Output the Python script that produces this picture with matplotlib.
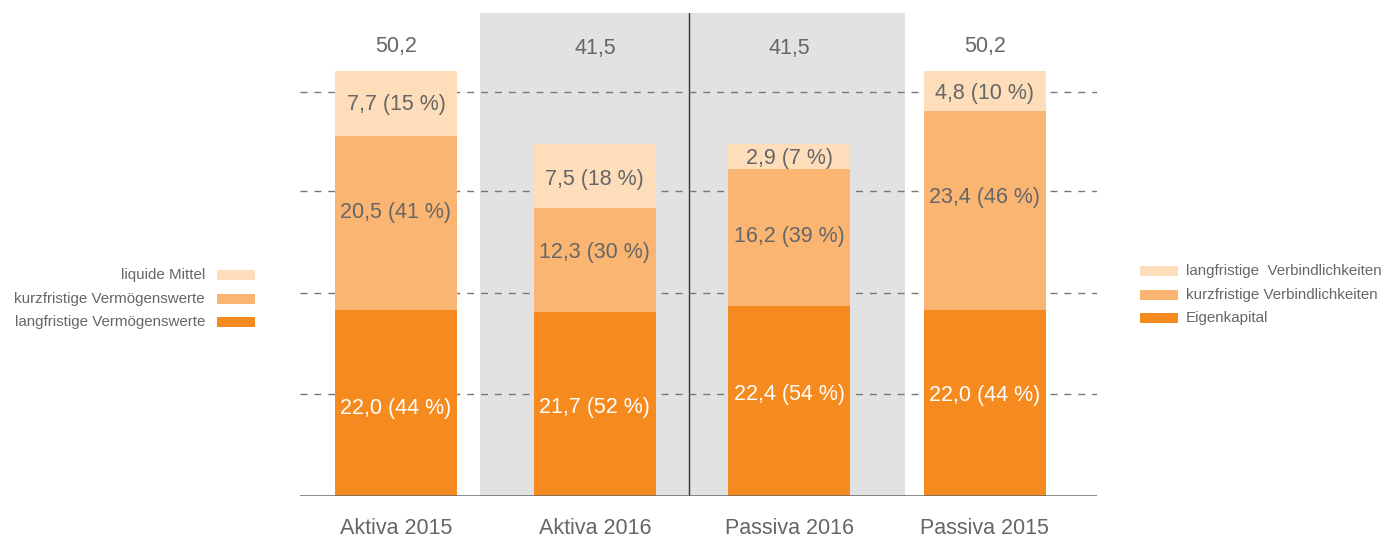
import matplotlib
matplotlib.use("Agg")
import matplotlib.pyplot as plt
from matplotlib.patches import Rectangle

plt.rcParams['font.family'] = ['Liberation Sans', 'DejaVu Sans']

categories = ["Aktiva 2015", "Aktiva 2016", "Passiva 2016", "Passiva 2015"]
dark_vals = [22.0, 21.7, 22.4, 22.0]
mid_vals = [20.5, 12.3, 16.2, 23.4]
light_vals = [7.7, 7.5, 2.9, 4.8]
totals = ["50,2", "41,5", "41,5", "50,2"]
dark_labels = ["22,0 (44 %)", "21,7 (52 %)", "22,4 (54 %)", "22,0 (44 %)"]
mid_labels = ["20,5 (41 %)", "12,3 (30 %)", "16,2 (39 %)", "23,4 (46 %)"]
light_labels = ["7,7 (15 %)", "7,5 (18 %)", "2,9 (7 %)", "4,8 (10 %)"]
left_legend = ["liquide Mittel", "kurzfristige Vermögenswerte", "langfristige Vermögenswerte"]
right_legend = ["langfristige  Verbindlichkeiten", "kurzfristige Verbindlichkeiten", "Eigenkapital"]
grid_vals = [12, 24, 36, 47.7]

# layout
x_pos = [0.0, 1.013, 2.003, 3.0]
dark_label_y = [10.3, 10.4, 12.0, 11.9]
mid_label_y = [33.5, 28.7, 30.6, 35.2]
light_label_y = [46.2, 37.4, 39.8, 47.5]
total_label_y = [53.1, 52.8, 52.8, 53.1]

C_DARK = "#F58B1F"
C_MID = "#FAB573"
C_LIGHT = "#FDDDBA"
TXT = "#666666"

W, H = 1385, 540
fig = plt.figure(figsize=(W / 100, H / 100), dpi=100)
ax = fig.add_axes([300 / W, (H - 496) / H, 797 / W, 483 / H])
ax.set_xlim(-0.489, 3.571)
ax.set_ylim(0, 57.0)
ax.axis('off')

bw = 0.62

# grey background and divider
ax.axvspan(0.428, 2.593, color="#E2E2E2", zorder=0, lw=0)
ax.axvline(1.492, color="#333333", lw=1.0, zorder=1)

# gridlines
for g in grid_vals:
    ax.axhline(g, color="#777777", lw=1.0, ls=(0, (5, 5)), zorder=1)

ax.bar(x_pos, dark_vals, width=bw, color=C_DARK, zorder=2, lw=0)
bottom2 = [d for d in dark_vals]
ax.bar(x_pos, mid_vals, width=bw, bottom=bottom2, color=C_MID, zorder=2, lw=0)
bottom3 = [d + m for d, m in zip(dark_vals, mid_vals)]
ax.bar(x_pos, light_vals, width=bw, bottom=bottom3, color=C_LIGHT, zorder=2, lw=0)

ax.axhline(0, color="#666666", lw=1.8, zorder=3)

fs = 15.5
for i, xp in enumerate(x_pos):
    ax.text(xp, dark_label_y[i], dark_labels[i], ha='center', va='center', color='white', fontsize=fs, zorder=4)
    ax.text(xp, mid_label_y[i], mid_labels[i], ha='center', va='center', color=TXT, fontsize=fs, zorder=4)
    ax.text(xp, light_label_y[i], light_labels[i], ha='center', va='center', color=TXT, fontsize=fs, zorder=4)
    ax.text(xp, total_label_y[i], totals[i], ha='center', va='center', color=TXT, fontsize=fs, zorder=4)
    ax.text(xp, -3.8, categories[i], ha='center', va='center', color=TXT, fontsize=fs, zorder=4)

# legends (figure pixel coordinates)
def fx(px):
    return px / W

def fy(py):
    return 1 - py / H

left_cols = [C_LIGHT, C_MID, C_DARK]
left_rows = [275, 299, 322]
for lab, col, yy in zip(left_legend, left_cols, left_rows):
    fig.patches.append(Rectangle((fx(217), fy(yy + 5)), 38 / W, 10 / H, transform=fig.transFigure,
                                 facecolor=col, edgecolor='none'))
    fig.text(fx(205), fy(yy), lab, ha='right', va='center', color=TXT, fontsize=10.9)

right_rows = [271, 295, 318]
for lab, col, yy in zip(right_legend, left_cols, right_rows):
    fig.patches.append(Rectangle((fx(1140), fy(yy + 5)), 38 / W, 10 / H, transform=fig.transFigure,
                                 facecolor=col, edgecolor='none'))
    fig.text(fx(1186), fy(yy), lab, ha='left', va='center', color=TXT, fontsize=10.9)

fig.savefig("out.png", dpi=100)
